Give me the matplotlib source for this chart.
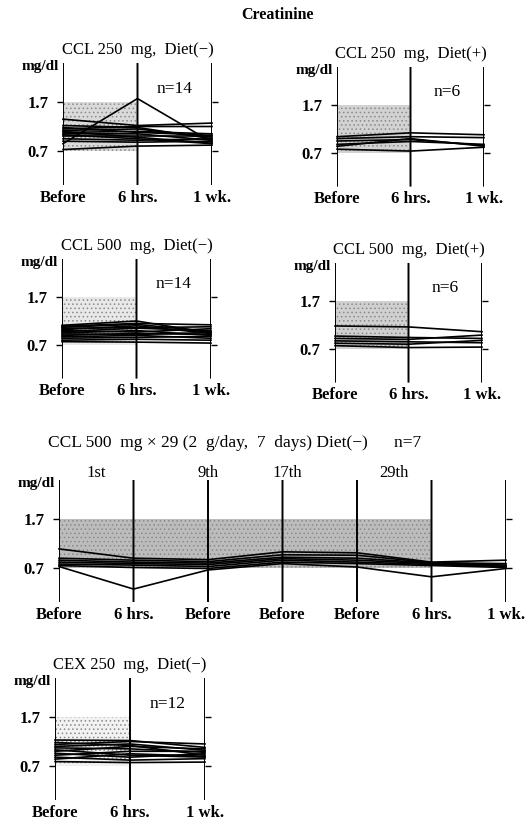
import numpy as np
import matplotlib
matplotlib.use("Agg")
import matplotlib.pyplot as plt

plt.rcParams['font.family'] = ['Liberation Serif', 'DejaVu Serif']
plt.rcParams['hatch.linewidth'] = 0.6

W, H = 530, 823

# normal range (shaded band)
NORMAL_LOW, NORMAL_HIGH = 0.7, 1.7
YTICKS = [0.7, 1.7]
YTICK_LABELS = ['0.7', '1.7']

times3 = ['Before', '6 hrs.', '1 wk.']
times7 = ['Before', '6 hrs.', 'Before', 'Before', 'Before', '6 hrs.', '1 wk.']
day_labels = ['1st', '9th', '17th', '29th']
day_pos = [0.5, 2.0, 3.07, 4.5]

# each row: one patient, values in mg/dl at each time point
ccl250_minus = [
    [0.73, 0.80, 0.82],
    [0.85, 1.77, 0.88],
    [0.90, 0.88, 0.90],
    [0.95, 0.92, 0.95],
    [1.00, 1.00, 1.00],
    [1.03, 0.95, 0.85],
    [1.05, 1.05, 0.92],
    [1.08, 1.10, 1.05],
    [1.10, 0.98, 0.86],
    [1.12, 1.15, 0.98],
    [1.15, 1.20, 1.20],
    [1.18, 1.08, 1.02],
    [1.22, 1.18, 0.95],
    [1.35, 1.22, 1.27],
]
ccl250_plus = [
    [1.04, 1.12, 1.08],
    [1.00, 1.04, 1.02],
    [0.95, 0.98, 0.86],
    [0.88, 0.94, 0.88],
    [0.84, 1.00, 0.84],
    [0.78, 0.74, 0.82],
]
ccl500_minus = [
    [0.77, 0.76, 0.74],
    [0.80, 0.82, 0.80],
    [0.84, 0.86, 0.88],
    [0.87, 0.90, 0.84],
    [0.90, 0.94, 0.92],
    [0.93, 0.92, 0.96],
    [0.95, 1.00, 0.90],
    [0.98, 1.05, 1.00],
    [1.00, 0.97, 1.04],
    [1.02, 1.10, 0.94],
    [1.05, 1.06, 1.08],
    [1.07, 1.13, 0.98],
    [1.09, 1.15, 1.12],
    [1.11, 1.20, 0.95],
]
ccl500_plus = [
    [1.18, 1.16, 1.06],
    [0.97, 0.94, 0.92],
    [0.92, 0.90, 0.99],
    [0.87, 0.85, 0.83],
    [0.82, 0.80, 0.88],
    [0.77, 0.73, 0.74],
]
ccl500x29 = [
    [1.09, 0.90, 0.87, 1.03, 1.01, 0.82, 0.86],
    [0.90, 0.86, 0.83, 0.97, 0.96, 0.81, 0.79],
    [0.86, 0.82, 0.80, 0.92, 0.90, 0.80, 0.76],
    [0.82, 0.79, 0.77, 0.89, 0.86, 0.79, 0.74],
    [0.78, 0.76, 0.73, 0.86, 0.82, 0.77, 0.73],
    [0.75, 0.71, 0.69, 0.82, 0.79, 0.75, 0.71],
    [0.73, 0.27, 0.66, 0.79, 0.72, 0.52, 0.69],
]
cex250_minus = [
    [0.79, 0.77, 0.78],
    [0.84, 0.95, 0.90],
    [0.88, 0.82, 0.85],
    [0.92, 1.00, 1.00],
    [0.96, 0.88, 0.95],
    [1.00, 1.10, 1.05],
    [1.03, 0.92, 0.88],
    [1.07, 1.05, 0.98],
    [1.10, 1.15, 1.02],
    [1.14, 1.20, 1.15],
    [1.18, 1.12, 0.92],
    [1.23, 1.22, 1.08],
]

fig = plt.figure(figsize=(W / 100, H / 100), dpi=100)
fig.text(277 / W, 1 - 15 / H, 'Creatinine', ha='center', va='center',
         fontsize=11.5, fontweight='bold')


def panel(xb, xe, y07, s, data, labels, shade_to, shade_col, title, n_text=None):
    bottom = y07 + 0.7 * s
    ax = fig.add_axes([xb / W, 1 - bottom / H, (xe - xb) / W, 2.5 * s / H])
    npts = len(labels)
    x = np.arange(npts)
    ax.set_xlim(0, npts - 1)
    ax.set_ylim(0, 2.5)
    for sp in ax.spines.values():
        sp.set_visible(False)
    ax.fill_between([0, shade_to], NORMAL_LOW, NORMAL_HIGH, facecolor=shade_col,
                    edgecolor='#8a8a8a', hatch='....', linewidth=0, zorder=1)
    ax.vlines(x, 0, 2.5, color='k', lw=1.4, zorder=3, snap=False)
    for row in data:
        ax.plot(x, row, color='k', lw=1.2, clip_on=False, zorder=4)
    ax.set_xticks([])
    ax.set_yticks(YTICKS)
    ax.set_yticklabels(YTICK_LABELS, fontsize=12, fontweight='bold')
    ax.tick_params(axis='y', left=True, right=True, direction='out', length=4.5,
                   width=1, pad=6)
    for i, lab in enumerate(labels):
        ax.text(i, -0.26, lab, ha='center', va='center', fontsize=12,
                fontweight='bold', clip_on=False)
    ax.text(-0.05, 2.42, 'mg/dl', ha='right', va='center', fontsize=11,
            fontweight='bold', clip_on=False)
    if n_text:
        ax.text(1.5, 1.97, n_text, ha='center', va='center', fontsize=12.5)
        ax.text(1, 2.77, title, ha='center', va='center', fontsize=12)
    return ax


panel(63, 212, 151, 49, ccl250_minus, times3, 1, '#dadada', 'CCL 250  mg,  Diet(−)', 'n=14')
panel(337, 484, 153, 48, ccl250_plus, times3, 1, '#d2d2d2', 'CCL 250  mg,  Diet(+)', 'n=6')
panel(62, 211, 345, 48, ccl500_minus, times3, 1, '#e8e8e8', 'CCL 500  mg,  Diet(−)', 'n=14')
panel(335, 482, 349, 48, ccl500_plus, times3, 1, '#d0d0d0', 'CCL 500  mg,  Diet(+)', 'n=6')
ax5 = panel(59, 506, 568, 49, ccl500x29, times7, 5, '#bcbcbc', '')
ax5.text(-0.15, 3.25, 'CCL 500  mg × 29 (2  g/day,  7  days) Diet(−)      n=7',
         ha='left', va='center', fontsize=12.5, clip_on=False)
for p, lab in zip(day_pos, day_labels):
    ax5.text(p, 2.64, lab, ha='center', va='center', fontsize=12, clip_on=False)
panel(55, 205, 766, 49, cex250_minus, times3, 1, '#f2f2f2', 'CEX 250  mg,  Diet(−)', 'n=12')

fig.savefig('out.png', dpi=100)
